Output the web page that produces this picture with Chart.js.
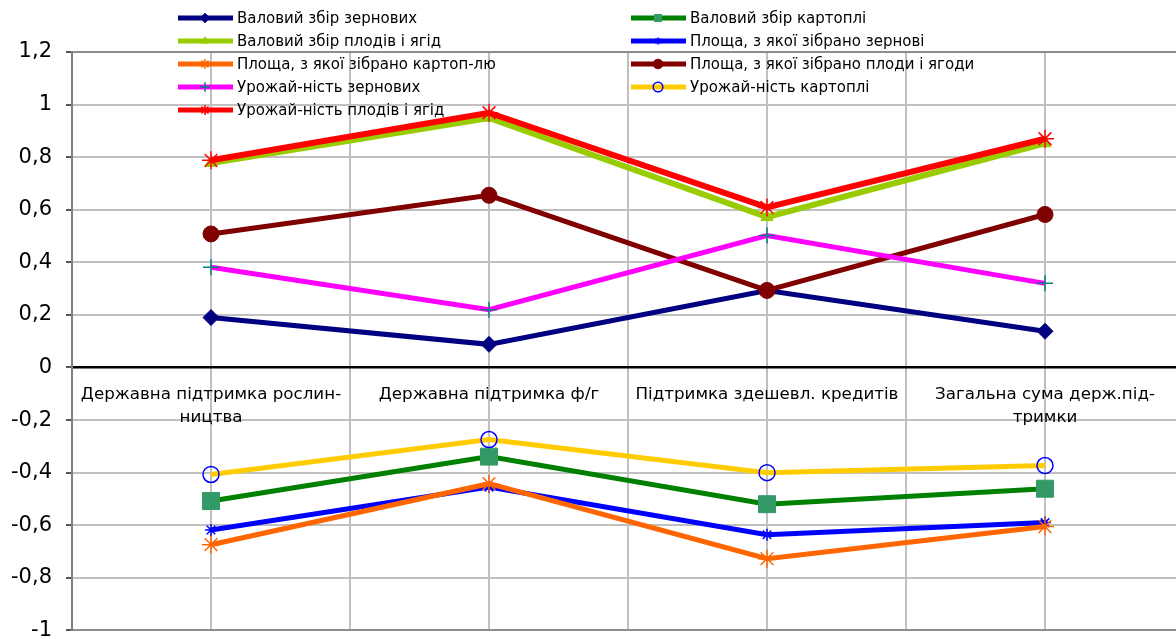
<!DOCTYPE html>
<html lang="uk">
<head>
<meta charset="UTF-8">
<title>Державна підтримка і показники</title>
<script src="https://cdn.jsdelivr.net/npm/chart.js"></script>
<style>
  html, body { margin: 0; padding: 0; background: #fff; overflow: hidden; }
</style>
</head>
<body>
<canvas id="grafik" width="1200" height="657"></canvas>
<script>
// категорії (підписи осі X)
const kategorii = [
  ["Державна підтримка рослин-", "ництва"],
  ["Державна підтримка ф/г"],
  ["Підтримка здешевл. кредитів"],
  ["Загальна сума держ.під-", "тримки"]
];

// назви рядів
const nazvy = [
  "Валовий збір зернових",
  "Валовий збір картоплі",
  "Валовий збір плодів і ягід",
  "Площа, з якої зібрано зернові",
  "Площа, з якої зібрано картоп-лю",
  "Площа, з якої зібрано плоди і ягоди",
  "Урожай-ність зернових",
  "Урожай-ність картоплі",
  "Урожай-ність плодів і ягід"
];

// значення
const zbirZernovi   = [0.19, 0.088, 0.293, 0.138];
const zbirKartoplia = [-0.508, -0.339, -0.52, -0.461];
const zbirPlody     = [0.778, 0.949, 0.572, 0.853];
const ploshchaZern  = [-0.618, -0.455, -0.636, -0.59];
const ploshchaKart  = [-0.674, -0.442, -0.727, -0.605];
const ploshchaPlody = [0.508, 0.655, 0.293, 0.582];
const urozhZern     = [0.381, 0.22, 0.502, 0.32];
const urozhKart     = [-0.407, -0.274, -0.40, -0.373];
const urozhPlody    = [0.788, 0.969, 0.609, 0.87];

const riady = [zbirZernovi, zbirKartoplia, zbirPlody, ploshchaZern, ploshchaKart,
               ploshchaPlody, urozhZern, urozhKart, urozhPlody];

// межі та крок осі Y
const yMin = -1, yMax = 1.2, yKrok = 0.2;

const shryft = '"DejaVu Sans", "Liberation Sans", Arial, sans-serif';

// стилі рядів
const stili = [
  { liniia: '#000080', marker: 'rectRot',  r: 8, zalyv: '#000080', kontur: '#000080', w: 5 },
  { liniia: '#008000', marker: 'rect',     r: 12, zalyv: '#339966', kontur: '#339966', w: 5 },
  { liniia: '#99CC00', marker: 'triangle', r: 7, zalyv: '#99CC00', kontur: '#99CC00', w: 6 },
  { liniia: '#0000FF', marker: 'star',     r: 6, zalyv: '#0000FF', kontur: '#0000FF', w: 5 },
  { liniia: '#FF6600', marker: 'star',     r: 9, zalyv: '#FF6600', kontur: '#FF6600', w: 5 },
  { liniia: '#800000', marker: 'circle',   r: 8, zalyv: '#800000', kontur: '#800000', w: 5 },
  { liniia: '#FF00FF', marker: 'cross',    r: 8, zalyv: '#008080', kontur: '#008080', w: 5 },
  { liniia: '#FFCC00', marker: 'circle',   r: 8, zalyv: 'rgba(0,0,0,0)', kontur: '#0000FF', w: 5 },
  { liniia: '#FF0000', marker: 'star',     r: 9, zalyv: '#FF0000', kontur: '#FF0000', w: 6 }
];

const naboryDanykh = riady.map((znach, i) => ({
  label: nazvy[i],
  data: znach.map((v, k) => ({ x: k, y: v })),
  borderColor: stili[i].liniia,
  borderWidth: stili[i].w,
  backgroundColor: stili[i].zalyv,
  pointStyle: stili[i].marker,
  pointRadius: stili[i].r,
  pointBackgroundColor: stili[i].zalyv,
  pointBorderColor: stili[i].kontur,
  pointBorderWidth: (stili[i].marker === 'star' || stili[i].marker === 'cross' || i === 7) ? 1.5 : 1,
  tension: 0,
  order: riady.length - i
}));

function formatKoma(v) {
  const r = Math.round(v * 10) / 10;
  return Number.isInteger(r) ? String(r) : r.toFixed(1).replace('.', ',');
}

// легенда у два стовпці
const legenda = {
  id: 'legenda',
  afterDraw(chart) {
    const ctx = chart.ctx;
    chart.data.datasets.forEach((ds, i) => {
      const stovp = i % 2, riadok = Math.floor(i / 2);
      const x0 = stovp === 0 ? 178 : 631;
      const y = 18 + riadok * 23;
      ctx.save();
      ctx.strokeStyle = ds.borderColor;
      ctx.lineWidth = 5;
      ctx.beginPath();
      ctx.moveTo(x0, y);
      ctx.lineTo(x0 + 55, y);
      ctx.stroke();
      if (Chart.helpers && Chart.helpers.drawPoint) {
        ctx.fillStyle = ds.pointBackgroundColor;
        ctx.strokeStyle = ds.pointBorderColor;
        ctx.lineWidth = ds.pointBorderWidth;
        Chart.helpers.drawPoint(ctx, { pointStyle: ds.pointStyle, rotation: 0, radius: Math.min(ds.pointRadius * 0.6, 5), borderWidth: ds.pointBorderWidth }, x0 + 27, y);
      }
      ctx.fillStyle = '#000';
      ctx.font = '15px ' + shryft;
      ctx.textBaseline = 'middle';
      ctx.fillText(ds.label, x0 + 59, y + 1);
      ctx.restore();
    });
  }
};

new Chart(document.getElementById('grafik'), {
  type: 'line',
  data: { datasets: naboryDanykh },
  options: {
    responsive: false,
    animation: false,
    layout: { padding: { top: 52, bottom: 20, left: 0, right: 6 } },
    plugins: { legend: { display: false }, tooltip: { enabled: false } },
    scales: {
      x: {
        type: 'linear',
        min: -0.5,
        max: 3.5,
        position: { y: 0 },
        afterFit: s => { s.height = 0; },
        border: { color: '#000', width: 1.5 },
        grid: { color: '#c0c0c0', lineWidth: 2, drawTicks: false },
        ticks: {
          stepSize: 0.5,
          autoSkip: false,
          maxRotation: 0,
          padding: 16,
          color: '#000',
          font: { family: shryft, size: 16.7, lineHeight: 1.37 },
          callback: v => Number.isInteger(v) && kategorii[v] ? kategorii[v] : ''
        }
      },
      y: {
        min: yMin,
        max: yMax,
        afterFit: s => { s.width = 72; },
        border: { color: '#808080', width: 2 },
        grid: {
          lineWidth: 2,
          tickLength: 6,
          tickColor: '#555',
          color: c => {
            const v = Math.round(c.tick.value * 10) / 10;
            if (v === 0) return '#000';
            if (v === yMax || v === yMin) return '#8c8c8c';
            return '#c0c0c0';
          }
        },
        ticks: {
          stepSize: yKrok,
          padding: 14,
          color: '#000',
          font: { family: shryft, size: 21 },
          callback: v => formatKoma(v)
        }
      }
    }
  },
  plugins: [legenda]
});
</script>
</body>
</html>
